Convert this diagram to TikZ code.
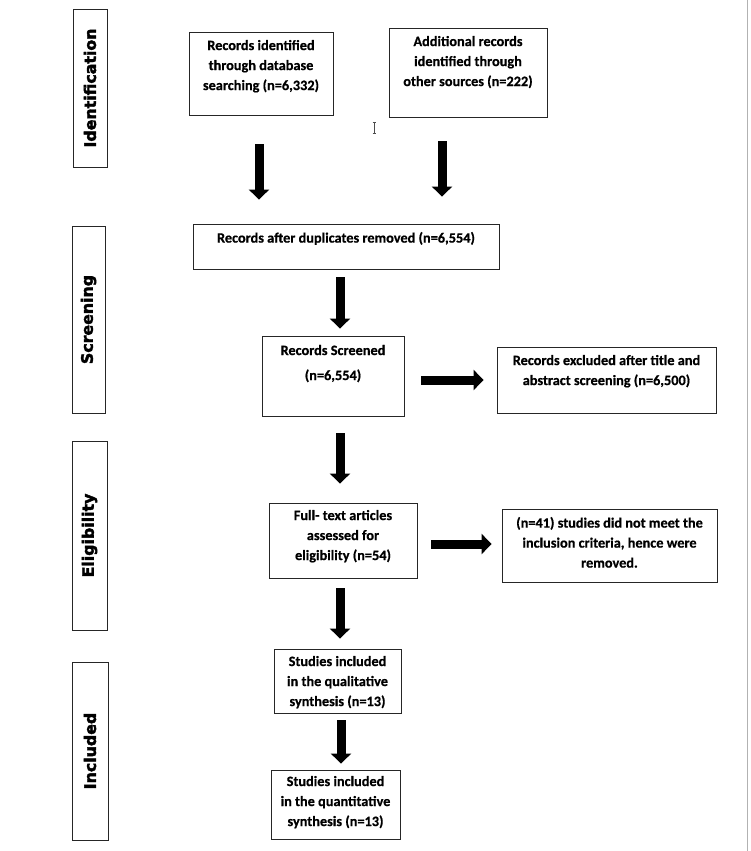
\documentclass[tikz,border=0pt]{standalone}
\usepackage{fontspec}
\setmainfont{Carlito}[BoldFeatures={FakeBold=0.6}]
\newfontfamily\sidefont{DejaVu Sans}[UprightFont={* Bold}, UprightFeatures={FakeBold=2.5}]
\usetikzlibrary{arrows.meta,calc}
\tikzset{
  box/.style={draw=black!85, line width=0.9pt, fill=white, inner sep=0pt,
    font=\fontsize{14.3}{20}\selectfont\bfseries},
  sidebox/.style={draw=black!85, line width=0.9pt, inner sep=0pt, rotate=90,
    font=\sidefont\fontsize{15.8}{18}\selectfont},
  bigarrow/.style={line width=9pt, black, -{Triangle[width=20pt,length=10pt]}},
}
\newcommand\boxtext[4]{\parbox[c][#2][t]{#1}{\centering\vspace*{#3}#4}}
\begin{document}
\begin{tikzpicture}[x=1pt,y=-1pt]
\useasboundingbox (0,0) rectangle (750,851);
\fill[white] (0,0) rectangle (750,851);
\draw[line width=1.5pt, black!30] (747.5,0) -- (747.5,851);

% side labels
\node[sidebox, minimum width=158pt, minimum height=34pt] (ident) at (90,88) {Identification};
\node[sidebox, minimum width=187pt, minimum height=33pt] (screen) at (88.5,319.5) {Screening};
\node[sidebox, minimum width=189pt, minimum height=35pt] (elig) at (89.5,535.5) {Eligibility};
\node[sidebox, minimum width=178pt, minimum height=36pt] (incl) at (90,751) {Included};

% boxes
\node[box] (b1) at (261,73.5) {\boxtext{144pt}{83pt}{8pt}{Records identified\\through database\\searching (n=6,332)}};
\node[box] (b2) at (468,72.5) {\boxtext{158pt}{89pt}{8pt}{Additional records\\identified through\\other sources (n=222)}};
\node[box] (dup) at (346,246.5) {\boxtext{306pt}{45pt}{8pt}{Records after duplicates removed (n=6,554)}};
\node[box] (scr) at (333,376) {\boxtext{142pt}{80pt}{9pt}{Records Screened\\[5pt](n=6,554)}};
\node[box] (excl) at (606.5,380) {\boxtext{219pt}{66pt}{8pt}{Records excluded after title and\\abstract screening (n=6,500)}};
\node[box] (full) at (343,540.5) {\boxtext{148pt}{75pt}{7pt}{Full- text articles\\assessed for\\eligibility (n=54)}};
\node[box] (n41) at (609.5,545.5) {\boxtext{215pt}{73pt}{8pt}{(n=41) studies did not meet the\\inclusion criteria, hence were\\removed.}};
\node[box] (qual) at (337.5,681) {\boxtext{127pt}{64pt}{7pt}{Studies included\\in the qualitative\\synthesis (n=13)}};
\node[box] (quant) at (335.5,804.5) {\boxtext{129pt}{69pt}{6pt}{Studies included\\in the quantitative\\synthesis (n=13)}};

% cursor mark
\draw[line width=0.6pt, black!70] (374,122) -- (374,133) (372.5,122) -- (375.5,122) (372.5,133) -- (375.5,133);

% arrows
\draw[bigarrow] ($(b1.south)+(-2,29)$) -- ($(b1.south |- dup.north)+(-2,-24)$);
\draw[bigarrow] ($(b2.south)+(-26,24)$) -- ($(b2.south |- dup.north)+(-26,-27)$);
\draw[bigarrow] ($(dup.south)+(-6,8)$) -- ($(dup.south |- scr.north)+(-6,-7)$);
\draw[bigarrow] ($(scr.south)+(7,17)$) -- ($(scr.south |- full.north)+(7,-19)$);
\draw[bigarrow] ($(full.south)+(-3,10)$) -- ($(full.south |- qual.north)+(-3,-10)$);
\draw[bigarrow] ($(qual.south)+(3.5,7)$) -- ($(qual.south |- quant.north)+(3.5,-6)$);
\draw[bigarrow] ($(scr.east)+(17,4)$) -- ($(excl.west)+(-13,0)$);
\draw[bigarrow] ($(full.east)+(14,3.5)$) -- ($(n41.west)+(-10,-1.5)$);
\end{tikzpicture}
\end{document}
